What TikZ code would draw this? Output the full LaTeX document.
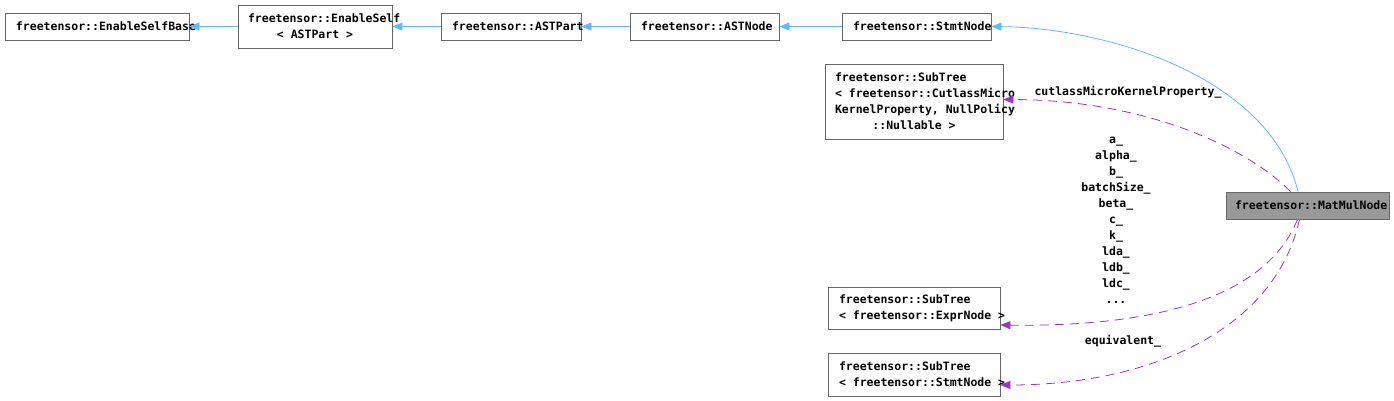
\documentclass[tikz,border=0pt]{standalone}
\usepackage{fontspec}
\newfontfamily\doxfont{DejaVu Sans Mono}[HyphenChar=None, WordSpace={1,0,0}]
\usetikzlibrary{arrows.meta}
\definecolor{edgeblue}{HTML}{63B8FF}
\definecolor{edgepurple}{HTML}{9A32CD}
\definecolor{boxgray}{HTML}{666666}
\definecolor{nodegray}{HTML}{999999}
\newcommand{\msp}{\hspace*{0.602em}}
\begin{document}
\begin{tikzpicture}[x=1pt, y=-1pt,
    every node/.style={font=\doxfont\bfseries\fontsize{11.5}{16}\selectfont},
    classbox/.style={draw=boxgray, line width=0.8pt, align=left, inner ysep=0pt},
    inherit/.style={-{Triangle[length=10pt,width=8pt]}, edgeblue, line width=0.8pt},
    member/.style={-{Triangle[length=10pt,width=8pt]}, edgepurple, line width=0.8pt, dash pattern=on 9pt off 6pt}]
    \useasboundingbox (0,0) rectangle (1394,401);

    % Base class chain
    \node[classbox, text width=162pt, inner xsep=11pt, minimum height=27pt] (selfbase) at (97,26.5) {freetensor::EnableSelfBase};
    \node[classbox, text width=134pt, inner xsep=10pt, minimum height=43pt] (enableself) at (315,26.5) {freetensor::EnableSelf\\\makebox[\linewidth]{<\msp ASTPart\msp >}};
    \node[classbox, text width=118pt, inner xsep=11pt, minimum height=27pt] (astpart) at (511,26.5) {freetensor::ASTPart};
    \node[classbox, text width=127pt, inner xsep=11pt, minimum height=27pt] (astnode) at (704.5,26.5) {freetensor::ASTNode};
    \node[classbox, text width=127pt, inner xsep=11pt, minimum height=27pt] (stmtnode) at (916.5,26.5) {freetensor::StmtNode};

    % The class itself
    \node[classbox, fill=nodegray, text width=145pt, inner xsep=9pt, minimum height=27pt] (matmul) at (1307.5,205.5) {freetensor::MatMulNode};

    % Member types
    \node[classbox, text width=158pt, inner xsep=10pt, minimum height=75pt] (cutlass) at (914,101.5) {freetensor::SubTree\\<\msp freetensor::CutlassMicro\\KernelProperty,\msp NullPolicy\\\makebox[\linewidth]{::Nullable\msp >}};
    \node[classbox, text width=150pt, inner xsep=11pt, minimum height=42pt] (exprtree) at (914,308) {freetensor::SubTree\\<\msp freetensor::ExprNode\msp >};
    \node[classbox, text width=150pt, inner xsep=11pt, minimum height=43pt] (stmttree) at (914,374.5) {freetensor::SubTree\\<\msp freetensor::StmtNode\msp >};

    % Inheritance
    \draw[inherit] (enableself) -- (selfbase);
    \draw[inherit] (astpart) -- (enableself);
    \draw[inherit] (astnode) -- (astpart);
    \draw[inherit] (stmtnode) -- (astnode);
    \draw[inherit] ([xshift=-9.5pt]matmul.north) .. controls (1270,78) and (1110,28) .. (stmtnode.east);

    % Members
    \draw[member] ([xshift=-17pt]matmul.north) .. controls (1250,150) and (1150,100) .. ([yshift=2pt]cutlass.east);
    \draw[member] ([xshift=-10pt]matmul.south) .. controls (1265,300) and (1150,327) .. ([yshift=-17pt]exprtree.east);
    \draw[member] ([xshift=-8pt]matmul.south) .. controls (1275,330) and (1150,385) .. ([yshift=-10.5pt]stmttree.east);

    % Member names
    \node (lblcutlass) at (1128,92) {cutlassMicroKernelProperty\_};
    \node[align=center] (lblfields) at (1116,220) {a\_\\alpha\_\\b\_\\batchSize\_\\beta\_\\c\_\\k\_\\lda\_\\ldb\_\\ldc\_\\...};
    \node (lblequiv) at (1123,341) {equivalent\_};
\end{tikzpicture}
\end{document}
